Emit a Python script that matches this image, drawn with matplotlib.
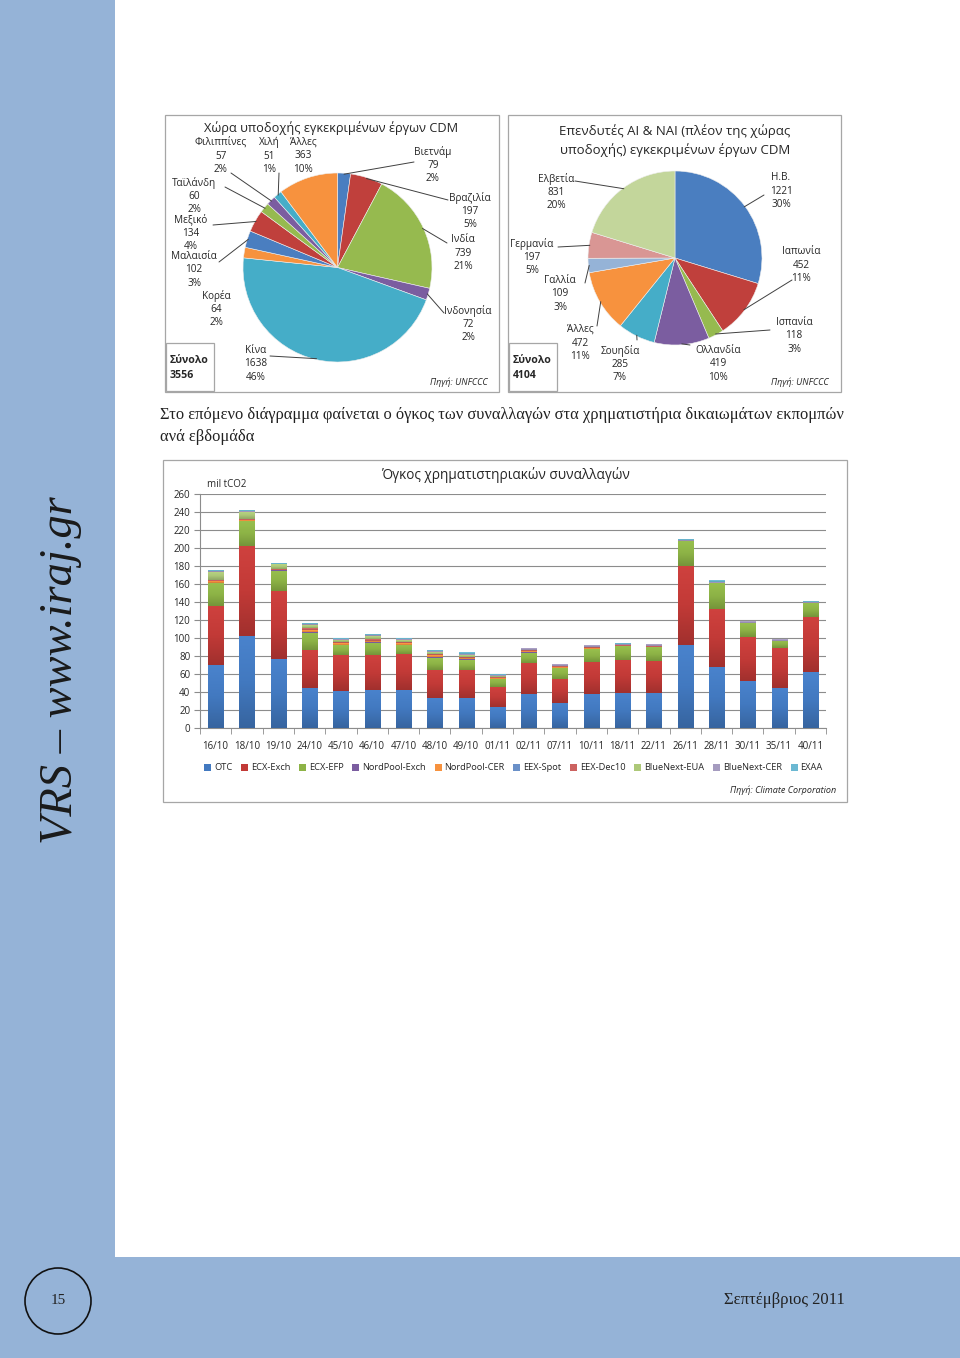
import matplotlib
matplotlib.use('Agg')
import matplotlib.pyplot as plt
from matplotlib.patches import Rectangle, Ellipse, Patch
from matplotlib.colors import LinearSegmentedColormap, to_rgb
import numpy as np

# ---------------- DATA ----------------
pie1_title = 'Χώρα υποδοχής εγκεκριμένων έργων CDM'
pie1_labels = ['Βιετνάμ', 'Βραζιλία', 'Ινδία', 'Ινδονησία', 'Κίνα', 'Κορέα',
               'Μαλαισία', 'Μεξικό', 'Ταϊλάνδη', 'Φιλιππίνες', 'Χιλή', 'Άλλες']
pie1_values = [79, 197, 739, 72, 1638, 64, 102, 134, 60, 57, 51, 363]
pie1_pct = ['2%', '5%', '21%', '2%', '46%', '2%', '3%', '4%', '2%', '2%', '1%', '10%']
pie1_total = '3556'

pie2_title = 'Επενδυτές AI & NAI (πλέον της χώρας\nυποδοχής) εγκεκριμένων έργων CDM'
pie2_labels = ['Η.Β.', 'Ιαπωνία', 'Ισπανία', 'Ολλανδία', 'Σουηδία', 'Άλλες',
               'Γαλλία', 'Γερμανία', 'Ελβετία']
pie2_values = [1221, 452, 118, 419, 285, 472, 109, 197, 831]
pie2_pct = ['30%', '11%', '3%', '10%', '7%', '11%', '3%', '5%', '20%']
pie2_total = '4104'

weeks = ['16/10', '18/10', '19/10', '24/10', '45/10', '46/10', '47/10', '48/10', '49/10', '01/11',
         '02/11', '07/11', '10/11', '18/11', '22/11', '26/11', '28/11', '30/11', '35/11', '40/11']
OTC = [70, 103, 77, 45, 41, 43, 43, 34, 34, 24, 38, 28, 38, 39, 39, 92, 68, 53, 45, 62]
ECX_Exch = [66, 100, 75, 42, 40, 38, 40, 31, 31, 22, 35, 27, 36, 37, 36, 88, 64, 48, 44, 62]
ECX_EFP = [25, 27, 23, 19, 11, 14, 9, 13, 11, 9, 11, 12, 14, 15, 15.5, 28, 29, 15.5, 8.5, 15]
NordPool_Exch = [0, 0, 1, 1, 1, 1, 1, 1, 0.5, 0, 0.5, 0, 0, 0, 0, 0, 0, 0, 0, 0]
NordPool_CER = [2.5, 1, 0, 2, 1.5, 1.5, 1.5, 2, 1.5, 1, 1, 1, 1, 0, 0, 0, 0, 0, 0, 0]
EEX_Spot = [0, 0, 0, 0.5, 0, 0, 0, 0, 0, 0, 0, 0, 0, 0, 0, 0, 0, 0, 0, 0]
EEX_Dec10 = [1, 1, 1, 2, 1.5, 1.5, 1.5, 2, 1.5, 1, 1.5, 1, 1.5, 1, 1, 0, 0, 0.5, 0, 0]
BlueNext_EUA = [9, 8, 5, 3, 2.5, 3, 2, 2, 1.5, 1.5, 0.5, 0, 0, 0, 0, 0, 0, 0, 0, 0]
BlueNext_CER = [1.5, 1, 1, 1.5, 1, 1.5, 1, 1, 1, 1, 1.5, 2, 2, 1.5, 1.5, 1.5, 1, 2, 1.5, 1.5]
EXAA = [1, 0.5, 0.5, 0.5, 0.5, 0.5, 0.5, 0.5, 1.5, 1, 0, 0, 0, 0.5, 0, 0.5, 2, 0, 0, 0.5]
series_names = ['OTC', 'ECX-Exch', 'ECX-EFP', 'NordPool-Exch', 'NordPool-CER', 'EEX-Spot',
                'EEX-Dec10', 'BlueNext-EUA', 'BlueNext-CER', 'EXAA']
series_values = [OTC, ECX_Exch, ECX_EFP, NordPool_Exch, NordPool_CER, EEX_Spot,
                 EEX_Dec10, BlueNext_EUA, BlueNext_CER, EXAA]
y_ticks = list(range(0, 261, 20))

# ---------------- STYLE / LAYOUT ----------------
W, H = 960, 1358
SANS = ['Open Sans', 'DejaVu Sans']
SERIF = ['Liberation Serif', 'DejaVu Serif']
TXT = '#262626'
BLUE_BG = '#95B3D7'
pie1_colors = ['#4A7EC0', '#C0403C', '#96BA4F', '#7B5DA0', '#45ADC8', '#F7923E',
               '#4A7EC0', '#C0403C', '#96BA4F', '#7B5DA0', '#45ADC8', '#F7923E']
pie2_colors = ['#4A7EC0', '#C0403C', '#96BA4F', '#7B5DA0', '#45ADC8', '#F7923E',
               '#95B3D7', '#D99694', '#C3D69B']
bar_colors = ['#4279C0', '#C23A37', '#8DB346', '#7B5DA0', '#F7923E', '#6A90C8',
              '#CC6260', '#ADC878', '#A59BBF', '#6BB8D2']

fig = plt.figure(figsize=(W / 100, H / 100), dpi=100)


def fx(x):
    return x / W


def fy(y):
    return 1 - y / H


def rect(x0, y0, x1, y1):
    return [fx(x0), fy(y1), (x1 - x0) / W, (y1 - y0) / H]


def box(x0, y0, x1, y1, fc='white', ec='#A6A6A6', lw=0.9, z=-5):
    fig.patches.append(Rectangle((fx(x0), fy(y1)), (x1 - x0) / W, (y1 - y0) / H,
                                 transform=fig.transFigure, facecolor=fc,
                                 edgecolor=ec, linewidth=lw, zorder=z))


# page background
box(0, 0, 115, 1358, fc=BLUE_BG, ec='none', lw=0, z=-10)
box(0, 1257, 960, 1358, fc=BLUE_BG, ec='none', lw=0, z=-10)

fig.text(fx(61), fy(670), 'VRS – www.iraj.gr', rotation=90, fontsize=33.5,
         style='italic', family=SERIF, ha='center', va='center', color='#1a1a1a')

fig.patches.append(Ellipse((fx(58), fy(1301)), 66 / W, 66 / H, transform=fig.transFigure,
                           facecolor='none', edgecolor='#111111', linewidth=1.2))
fig.text(fx(58), fy(1301), '15', fontsize=11, family=SERIF, ha='center', va='center',
         color='#222222')
fig.text(fx(845), fy(1300), 'Σεπτέμβριος 2011', fontsize=12, family=SERIF,
         ha='right', va='center', color='#222222')

fig.text(fx(160), fy(415), 'Στο επόμενο διάγραμμα φαίνεται ο όγκος των συναλλαγών στα '
         'χρηματιστήρια δικαιωμάτων εκπομπών', fontsize=11.9, family=SERIF,
         ha='left', va='center', color='#222222')
fig.text(fx(160), fy(437), 'ανά εβδομάδα', fontsize=11.9, family=SERIF,
         ha='left', va='center', color='#222222')

# chart frames
box(165, 115, 499, 392)
box(508, 115, 841, 392)
box(163, 460, 847, 802)


def draw_pie(cx, cy, r, values, colors, labels, pct, label_pos, line_start,
             title, title_y, title_size, total, box_x0, title_x):
    ax = fig.add_axes(rect(cx - r, cy - r, cx + r, cy + r))
    wedges, _ = ax.pie(values, colors=colors, startangle=90, counterclock=False,
                       radius=1, wedgeprops=dict(linewidth=0.4, edgecolor='#eeeeee'))
    ax.set_xlim(-1, 1)
    ax.set_ylim(-1, 1)
    ax.axis('off')
    for w, name, v, p, lp, ls in zip(wedges, labels, values, pct, label_pos, line_start):
        fig.text(fx(lp[0]), fy(lp[1]), f'{name}\n{v}\n{p}', fontsize=7.2,
                 family=SANS, ha='center', va='center', linespacing=1.3, color=TXT)
        if ls is not None:
            a = np.deg2rad((w.theta1 + w.theta2) / 2)
            ax.annotate('', xy=(np.cos(a) * 0.99, np.sin(a) * 0.99), xycoords='data',
                        xytext=(fx(ls[0]), fy(ls[1])), textcoords='figure fraction',
                        arrowprops=dict(arrowstyle='-', color='#404040', lw=0.7,
                                        shrinkA=0, shrinkB=0), annotation_clip=False)
    fig.text(fx(title_x), fy(title_y), title,
             fontsize=title_size, family=SANS, ha='center', va='center', color=TXT,
             linespacing=1.4)
    # total box
    box(box_x0, 343, box_x0 + 48, 391, fc='none')
    fig.text(fx(box_x0 + 4), fy(361), 'Σύνολο', fontsize=7.6, weight='bold',
             family=SANS, ha='left', va='center', color=TXT)
    fig.text(fx(box_x0 + 4), fy(376), total, fontsize=7.6, weight='bold',
             family=SANS, ha='left', va='center', color=TXT)


pie1_label_pos = [(433, 165), (470, 211), (463, 253), (468, 324), (256, 364), (216, 309),
                  (194, 270), (191, 233), (194, 196), (221, 156), (269, 156), (303, 156)]
pie1_line_start = [(414, 162), (448, 200), (447, 243), (444, 313), (270, 356), None,
                   (219, 262), (213, 225), (225, 187), (231, 173), (279, 173), None]
draw_pie(337.5, 267.5, 94.5, pie1_values, pie1_colors, pie1_labels, pie1_pct,
         pie1_label_pos, pie1_line_start, pie1_title, 128, 9.2, pie1_total, 166, 331)
fig.text(fx(488), fy(382), 'Πηγή: UNFCCC', fontsize=6.5, style='italic', family=SANS,
         ha='right', va='center', color=TXT)

pie2_label_pos = [(781, 191), (801, 265), (794, 336), (718, 364), (620, 364), (580, 343),
                  (560, 294), (532, 257), (556, 192)]
pie2_line_start = [(764, 195), (792, 280), (770, 330), (690, 345), (637, 340), (597, 326),
                   (585, 283), (558, 247), (575, 181)]
draw_pie(675, 258, 87, pie2_values, pie2_colors, pie2_labels, pie2_pct,
         pie2_label_pos, pie2_line_start, pie2_title, 140.5, 9.5, pie2_total, 509, 675)
fig.text(fx(829), fy(382), 'Πηγή: UNFCCC', fontsize=6.5, style='italic', family=SANS,
         ha='right', va='center', color=TXT)

# ---------------- BAR CHART ----------------
ax = fig.add_axes(rect(200, 494.3, 826, 728.3))
ax.set_facecolor('none')
x = np.arange(len(weeks))
bottom = np.zeros(len(weeks))
handles = []
grad = np.linspace(0, 1, 64).reshape(-1, 1)
for name, vals, col in zip(series_names, series_values, bar_colors):
    vals = np.array(vals, dtype=float)
    bars = ax.bar(x, vals, width=0.48, bottom=bottom, color=col, edgecolor='none',
                  zorder=3, label=name)
    base = np.array(to_rgb(col))
    cmap = LinearSegmentedColormap.from_list(
        name, [np.clip(base * 0.83, 0, 1), base, np.clip(base * 1.04 + 0.02, 0, 1)])
    for p in bars.patches:
        if p.get_height() <= 0:
            continue
        x0, y0 = p.get_x(), p.get_y()
        ax.imshow(grad, extent=[x0, x0 + p.get_width(), y0, y0 + p.get_height()],
                  origin='lower', aspect='auto', cmap=cmap, zorder=3.5,
                  interpolation='bilinear')
    bottom += vals
    handles.append(Patch(facecolor=col, edgecolor='none', label=name))

ax.set_xlim(-0.5, len(weeks) - 0.5)
ax.set_ylim(0, 260)
ax.set_yticks(y_ticks)
ax.set_yticklabels([str(t) for t in y_ticks], family=SANS, fontsize=7, color=TXT)
ax.set_xticks(x)
ax.set_xticklabels(weeks, family=SANS, fontsize=7, color=TXT)
ax.set_xticks(np.arange(-0.5, len(weeks), 1), minor=True)
ax.tick_params(axis='x', which='major', length=0, pad=9)
ax.tick_params(axis='x', which='minor', length=4, direction='out', color='#8C8C8C')
ax.tick_params(axis='y', length=4, direction='out', color='#8C8C8C', pad=3)
ax.yaxis.grid(True, color='#8C8C8C', linewidth=0.8, zorder=0)
ax.set_axisbelow(True)
for s in ['top', 'right']:
    ax.spines[s].set_visible(False)
for s in ['left', 'bottom']:
    ax.spines[s].set_color('#8C8C8C')
    ax.spines[s].set_linewidth(0.8)

fig.text(fx(505), fy(475), 'Όγκος χρηματιστηριακών συναλλαγών', fontsize=9.8,
         family=SANS, ha='center', va='center', color=TXT)
fig.text(fx(227), fy(484), 'mil tCO2', fontsize=7, family=SANS, ha='center',
         va='center', color=TXT)
fig.legend(handles=handles, loc='center', bbox_to_anchor=(fx(513.5), fy(768)), ncol=10,
           frameon=False, prop={'family': SANS, 'size': 6.7}, handlelength=0.75,
           handleheight=0.75, handletextpad=0.3, columnspacing=0.95, labelcolor=TXT)
fig.text(fx(836), fy(790), 'Πηγή: Climate Corporation', fontsize=6.5, style='italic',
         family=SANS, ha='right', va='center', color=TXT)

fig.savefig('out.png', dpi=100)
